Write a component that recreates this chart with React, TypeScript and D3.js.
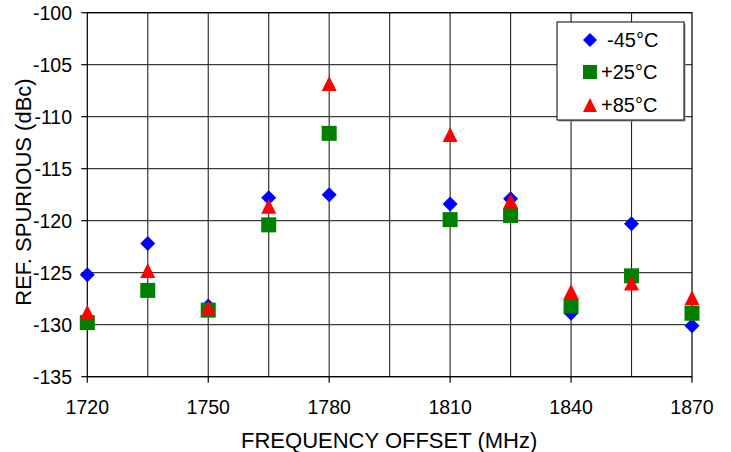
import React from "react";
import * as d3 from "d3";

const freqs = [1720, 1735, 1750, 1765, 1780, 1810, 1825, 1840, 1855, 1870];
const minus45 = [-125.2, -122.2, -128.2, -117.8, -117.5, -118.4, -117.9, -128.9, -120.3, -130.1];
const plus25 = [-129.8, -126.7, -128.6, -120.4, -111.6, -119.9, -119.5, -128.2, -125.3, -128.9];
const plus85 = [-128.8, -124.8, -128.4, -118.6, -106.8, -111.7, -118.1, -126.8, -126.0, -127.4];

const seriesNames = ["-45°C", "+25°C", "+85°C"];
const seriesColors = ["#0000FF", "#008000", "#FF0000"];
const seriesShapes = ["diamond", "square", "triangle"];

const xTicks = [1720, 1750, 1780, 1810, 1840, 1870];
const xGrid = [1735, 1750, 1765, 1780, 1795, 1810, 1825, 1840, 1855];
const yTicks = [-100, -105, -110, -115, -120, -125, -130, -135];

const W = 731;
const H = 452;
const FONT = "'Liberation Sans', Arial, Helvetica, sans-serif";

function markerPath(shape: string, cx: number, cy: number, s: number) {
  const h = s / 2;
  if (shape === "diamond") {
    return `M${cx},${cy - h}L${cx + h},${cy}L${cx},${cy + h}L${cx - h},${cy}Z`;
  }
  if (shape === "square") {
    return `M${cx - h},${cy - h}h${s}v${s}h${-s}Z`;
  }
  return `M${cx},${cy - h}L${cx + h},${cy + h}L${cx - h},${cy + h}Z`;
}

export default function App() {
  const x = d3.scaleLinear().domain([1720, 1870]).range([87.3, 692]);
  const y = d3.scaleLinear().domain([-135, -100]).range([376.7, 12.7]);
  const series = [minus45, plus25, plus85];
  const sizes = [15, 15, 15];

  const legendX = 557;
  const legendY = 22;
  const legendW = 127;
  const legendH = 98;
  const legendRows = [40, 72, 105];
  const legendDx = [6, 0, 0];

  return (
    <div style={{ position: "absolute", left: 0, top: 0 }}>
      <svg width={W} height={H} style={{ display: "block", background: "#fff" }}>
        <rect x={0} y={0} width={W} height={H} fill="#fff" />
        {/* horizontal grid */}
        {yTicks.map((t) => (
          <line key={"hg" + t} x1={x(1720)} x2={x(1870)} y1={y(t)} y2={y(t)} stroke="#3a3a3a" strokeWidth={1.2} />
        ))}
        {/* vertical grid */}
        {xGrid.map((t) => (
          <line key={"vg" + t} x1={x(t)} x2={x(t)} y1={y(-100)} y2={y(-135)} stroke="#222" strokeWidth={1.1} />
        ))}
        {/* plot border */}
        <rect x={x(1720)} y={y(-100)} width={x(1870) - x(1720)} height={y(-135) - y(-100)} fill="none" stroke="#000" strokeWidth={1.2} />
        {/* y ticks */}
        {yTicks.map((t) => (
          <g key={"yt" + t}>
            <line x1={x(1720) - 6} x2={x(1720)} y1={y(t)} y2={y(t)} stroke="#000" strokeWidth={1.2} />
            <text x={72} y={y(t)} dy="0.36em" textAnchor="end" fontFamily={FONT} fontSize={19.5} fill="#000">
              {t}
            </text>
          </g>
        ))}
        {/* x ticks */}
        {xTicks.map((t) => (
          <g key={"xt" + t}>
            <line x1={x(t)} x2={x(t)} y1={y(-135)} y2={y(-135) + 6} stroke="#000" strokeWidth={1.2} />
            <text x={x(t)} y={414} textAnchor="middle" fontFamily={FONT} fontSize={19.5} fill="#000">
              {t}
            </text>
          </g>
        ))}
        {/* axis titles */}
        <text x={(x(1720) + x(1870)) / 2 - 0.5} y={448} textAnchor="middle" fontFamily={FONT} fontSize={22} fill="#000">
          FREQUENCY OFFSET (MHz)
        </text>
        <text
          transform={`translate(31,192) rotate(-90)`}
          textAnchor="middle"
          fontFamily={FONT}
          fontSize={22}
          fill="#000"
        >
          REF. SPURIOUS (dBc)
        </text>
        {/* data markers */}
        {series.map((vals, si) => (
          <g key={"s" + si}>
            {vals.map((v, i) => (
              <path
                key={i}
                d={markerPath(seriesShapes[si], x(freqs[i]), y(v), sizes[si])}
                fill={seriesColors[si]}
              />
            ))}
          </g>
        ))}
        {/* legend */}
        <rect x={legendX + 1.5} y={legendY + 1.5} width={legendW} height={legendH} fill="#999" />
        <rect x={legendX} y={legendY} width={legendW} height={legendH} fill="#fff" stroke="#000" strokeWidth={1} />
        {seriesNames.map((name, i) => (
          <g key={"lg" + i}>
            <path d={markerPath(seriesShapes[i], 590, legendRows[i], 14)} fill={seriesColors[i]} />
            <text x={601 + legendDx[i]} y={legendRows[i]} dy="0.36em" fontFamily={FONT} fontSize={20} fill="#000">
              {name}
            </text>
          </g>
        ))}
      </svg>
    </div>
  );
}
